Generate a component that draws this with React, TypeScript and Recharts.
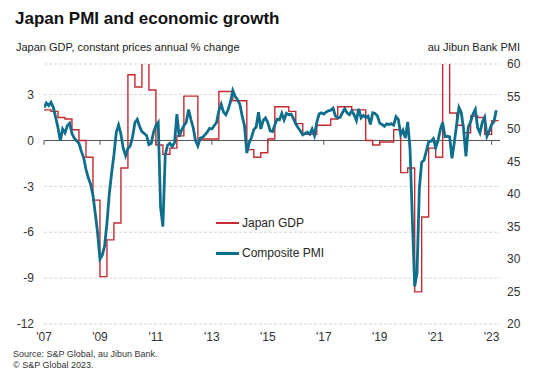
import { LineChart, Line, XAxis, YAxis, CartesianGrid, ReferenceLine, Legend } from "recharts";

const START_YEAR = 2007;

// au Jibun Bank composite PMI, monthly from Jan 2007
const PMI_2007_2010 = [
  53.3, 54.0, 53.6, 54.1, 53.3, 51.8, 50.2, 48.2, 50.0, 49.4, 50.5, 50.9,
  49.3, 48.6, 48.2, 47.8, 46.6, 45.6, 43.8, 42.5, 41.5, 39.8, 37.0, 34.0,
  30.0, 30.6, 32.0, 35.5, 40.0, 43.2, 46.0, 49.5, 50.6, 49.2, 47.0, 45.9,
  47.0, 47.4, 48.8, 51.0, 51.5, 50.4, 49.6, 49.3, 49.0, 47.6, 47.8, 49.5,
];
const PMI_2011_2014 = [
  50.5, 51.0, 38.0, 35.0, 46.0, 47.5, 47.8, 47.3, 47.9, 52.3, 48.8, 49.8,
  50.5, 51.0, 53.0, 51.5, 50.2, 48.2, 47.4, 48.6, 48.7, 49.1, 49.5, 50.1,
  50.0, 50.5, 51.0, 52.8, 53.8, 52.6, 52.2, 53.0, 54.2, 55.9, 55.0, 54.5,
  53.8, 52.0, 50.5, 46.3, 47.9, 48.7, 49.9, 50.3, 52.6, 50.0, 51.3, 51.7,
];
const PMI_2015_2018 = [
  51.0, 49.7, 49.6, 50.6, 51.5, 51.4, 52.4, 51.4, 52.4, 52.2, 52.3, 51.6,
  50.8, 50.2, 49.7, 49.1, 49.3, 49.5, 49.2, 50.0, 49.0, 51.0, 52.3, 52.5,
  52.3, 52.6, 52.8, 52.9, 53.2, 52.0, 51.7, 51.8, 52.5, 53.1, 52.5, 52.2,
  52.8, 52.2, 51.3, 53.1, 51.7, 52.1, 51.8, 52.0, 50.7, 52.5, 52.4, 52.0,
];
const PMI_2019_2023 = [
  50.9, 50.7, 50.4, 50.8, 50.7, 50.8, 50.6, 51.9, 51.5, 49.1, 49.8, 48.6,
  51.1, 47.0, 36.2, 25.8, 27.8, 40.8, 44.9, 45.2, 46.6, 48.0, 48.1, 48.5,
  47.1, 48.2, 49.9, 51.0, 48.8, 48.9, 48.8, 45.5, 47.9, 50.7, 53.3, 52.5,
  49.9, 45.8, 50.3, 51.1, 52.3, 53.0, 50.2, 49.4, 51.0, 51.8, 48.9, 49.7,
  50.7, 51.1, 52.9,
];

// Japan real GDP, annual % change, quarterly from Q1 2007
const GDP_QUARTERLY = [
  2.0, 1.9, 1.5, 1.4,
  0.7, 0.0, -1.1, -3.9,
  -8.9, -6.5, -5.4, -1.8,
  4.3, 3.5, 6.5, 3.3,
  -0.3, -0.9, -0.5, 0.3,
  2.9, 2.9, 0.1, 0.1,
  0.1, 3.2, 3.2, 2.6,
  2.6, -0.6, -1.1, -0.8,
  0.1, 2.2, 2.2, 1.9,
  1.1, 0.4, 0.4, 1.0,
  1.0, 1.4, 2.2, 2.2,
  2.0, 2.0, 0.0, -0.3,
  -0.1, -0.1, 0.7, -2.1,
  -1.8, -9.9, -5.0, -0.5,
  -1.1, 7.6, 1.8, 1.0,
  0.5, 1.6, 1.5, 0.4,
  1.3,
];

const YEAR_TICKS = [2007, 2009, 2011, 2013, 2015, 2017, 2019, 2021, 2023];
const GDP_TICKS = [-12, -9, -6, -3, 0, 3];
const PMI_TICKS = [20, 25, 30, 35, 40, 45, 50, 55, 60];

const RED = "#c62b31";
const TEAL = "#0f6e8c";
const FONT = "'Liberation Sans', Arial, sans-serif";

const pmiValues = [...PMI_2007_2010, ...PMI_2011_2014, ...PMI_2015_2018, ...PMI_2019_2023];
const pmiData = pmiValues.map((v, i) => ({ t: START_YEAR + i / 12, pmi: v }));

const gdpData = GDP_QUARTERLY.map((v, i) => ({ t: START_YEAR + i / 4, gdp: v }));
// close off the last quarter's step
gdpData.push({ t: START_YEAR + GDP_QUARTERLY.length / 4, gdp: GDP_QUARTERLY[GDP_QUARTERLY.length - 1] });

const SERIES = [
  { name: "Japan GDP", color: RED, width: 2 },
  { name: "Composite PMI", color: TEAL, width: 3 },
];

function LegendBox() {
  return (
    <div style={{ fontFamily: FONT, fontSize: 12, color: "#262626" }}>
      {SERIES.map((s) => (
        <div key={s.name} style={{ display: "flex", alignItems: "center", height: 30 }}>
          <span style={{ display: "inline-block", width: 23, borderTop: `${s.width}px solid ${s.color}`, marginRight: 3 }} />
          <span>{s.name}</span>
        </div>
      ))}
    </div>
  );
}

export default function App() {
  const tickStyle = { fill: "#333", fontSize: 12, fontFamily: FONT };
  return (
    <div style={{ position: "absolute", left: 0, top: 0, width: 541, height: 381, background: "#fff", fontFamily: FONT, overflow: "hidden" }}>
      <div style={{ position: "absolute", left: 15, top: 9.5, fontSize: 17, lineHeight: "17px", fontWeight: 700, color: "#111" }}>
        Japan PMI and economic growth
      </div>
      <div style={{ position: "absolute", left: 16, top: 42, fontSize: 11, lineHeight: "11px", color: "#222" }}>
        Japan GDP, constant prices annual % change
      </div>
      <div style={{ position: "absolute", right: 21, top: 42, fontSize: 11, lineHeight: "11px", color: "#222" }}>
        au Jibun Bank PMI
      </div>
      <LineChart width={541} height={381} data={pmiData} margin={{ top: 64, right: 0, bottom: 37, left: 0 }}>
        <CartesianGrid yAxisId="gdp" vertical={false} stroke="#d6d6d6" strokeDasharray="3 2" />
        <XAxis
          type="number"
          dataKey="t"
          domain={[2007, 2023.3]}
          ticks={YEAR_TICKS}
          allowDataOverflow
          tickFormatter={(t: number) => "'" + String(t).slice(2)}
          axisLine={false}
          tickLine={false}
          tickSize={0}
          tickMargin={8}
          height={20}
          tick={tickStyle}
        />
        <YAxis
          yAxisId="gdp"
          domain={[-12, 5]}
          ticks={GDP_TICKS}
          allowDataOverflow
          width={44}
          axisLine={false}
          tickLine={false}
          tickSize={0}
          tickMargin={10}
          tick={tickStyle}
        />
        <YAxis
          yAxisId="pmi"
          orientation="right"
          domain={[20, 60]}
          ticks={PMI_TICKS}
          allowDataOverflow
          width={41}
          axisLine={false}
          tickLine={false}
          tickSize={0}
          tickMargin={7}
          tick={tickStyle}
        />
        <ReferenceLine yAxisId="gdp" y={0} stroke="#555" strokeWidth={1} />
        {YEAR_TICKS.map((t) => (
          <ReferenceLine
            key={t}
            yAxisId="gdp"
            segment={[{ x: t, y: 0 }, { x: t, y: -0.28 }]}
            stroke="#555"
            strokeWidth={1}
          />
        ))}
        <Line
          yAxisId="gdp"
          data={gdpData}
          dataKey="gdp"
          name="Japan GDP"
          type="stepAfter"
          stroke={RED}
          strokeWidth={1.4}
          dot={false}
          activeDot={false}
          isAnimationActive={false}
        />
        <Line
          yAxisId="pmi"
          dataKey="pmi"
          name="Composite PMI"
          type="linear"
          stroke={TEAL}
          strokeWidth={2.8}
          dot={false}
          activeDot={false}
          isAnimationActive={false}
        />
        <Legend
          layout="vertical"
          align="center"
          verticalAlign="middle"
          wrapperStyle={{ left: 216, top: 208, width: 140, height: 60 }}
          content={() => <LegendBox />}
        />
      </LineChart>
      <div style={{ position: "absolute", left: 13, top: 349, fontSize: 9, lineHeight: "11px", color: "#333" }}>
        Source: S&amp;P Global, au Jibun Bank.
        <br />© S&amp;P Global 2023.
      </div>
    </div>
  );
}
